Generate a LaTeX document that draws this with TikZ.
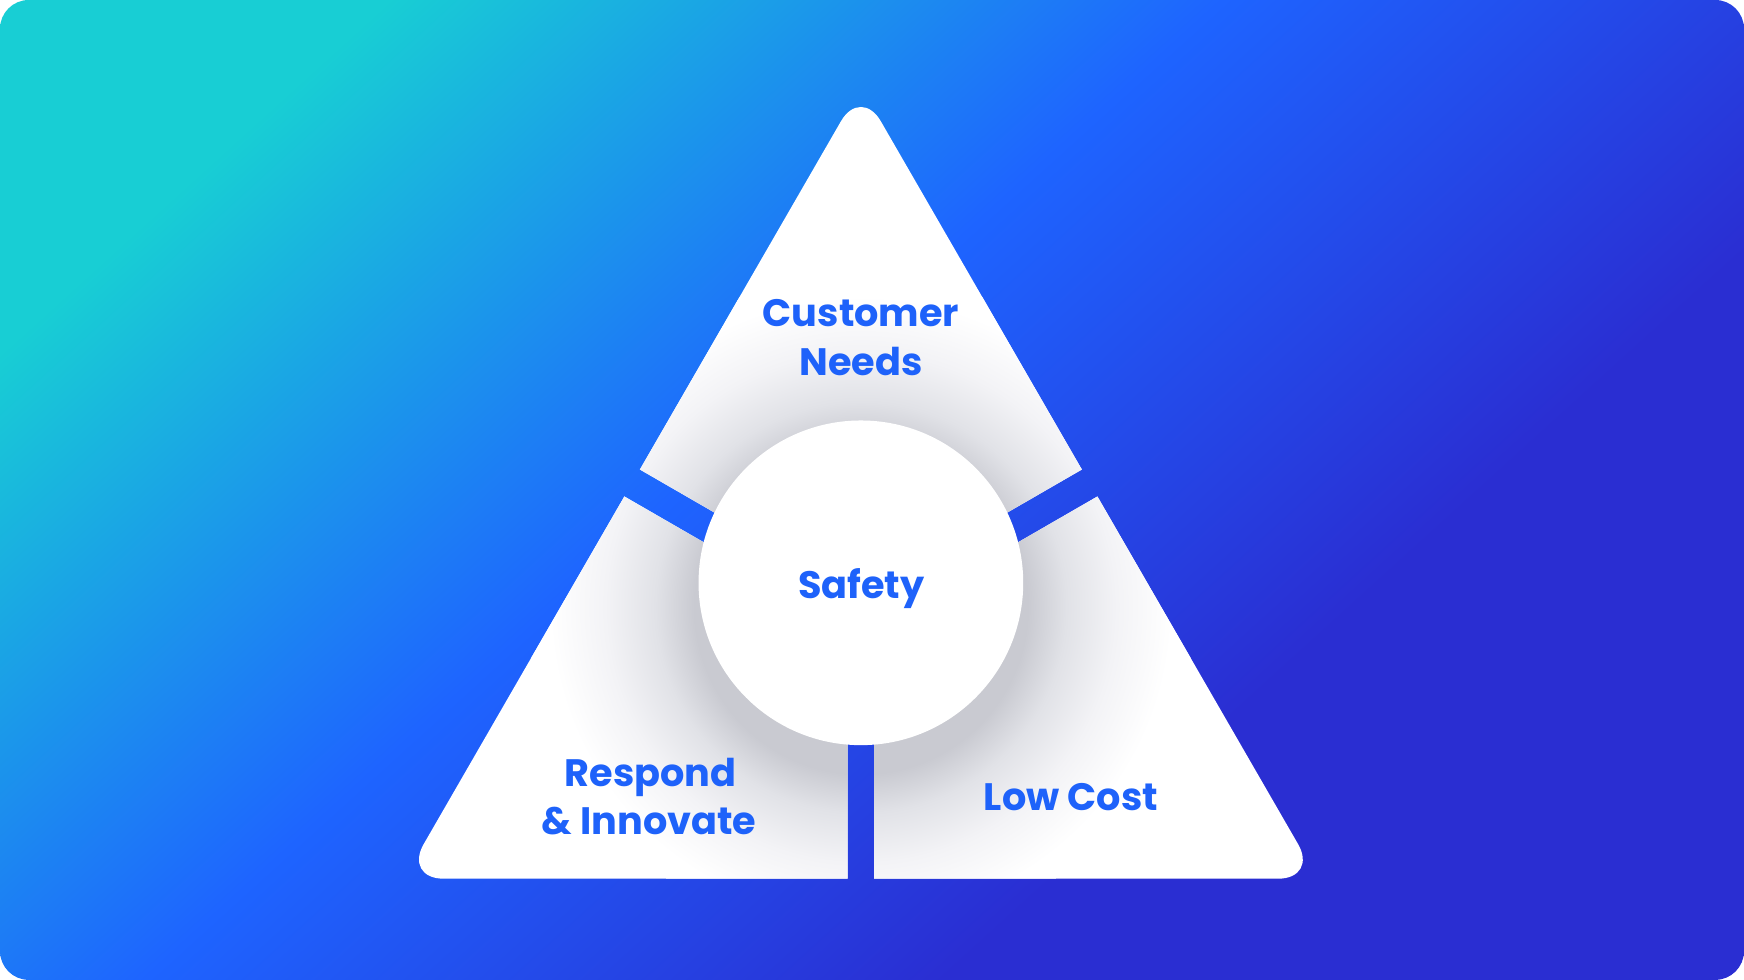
\documentclass[tikz,border=0pt]{standalone}
\usepackage{fontspec}
\setmainfont{Poppins}
\definecolor{bgcyan}{RGB}{24,206,212}
\definecolor{bgblue}{RGB}{30,100,255}
\definecolor{bgindigo}{RGB}{42,46,210}
\definecolor{shA}{RGB}{201,202,209}
\definecolor{shB}{RGB}{225,226,231}
\definecolor{shC}{RGB}{243,243,246}
\definecolor{tcol}{RGB}{30,98,250}
\pgfdeclarehorizontalshading{bgshade}{1800bp}{color(0bp)=(bgcyan); color(235bp)=(bgcyan); color(739bp)=(bgblue); color(1223bp)=(bgindigo); color(1720bp)=(bgindigo)}
\pgfdeclareradialshading{hubshadow}{\pgfpoint{0bp}{0bp}}{color(0bp)=(shA); color(150bp)=(shA); color(185bp)=(shB); color(230bp)=(shC); color(280bp)=(white); color(300bp)=(white)}
\tikzset{
  lbl/.style={text=tcol, font=\bfseries\fontsize{34.5}{42}\selectfont, inner sep=0pt, anchor=base},
  piece/.style={rounded corners=36pt}
}
\begin{document}
\begin{tikzpicture}[x=1bp,y=1bp]
\useasboundingbox (0,0) rectangle (1568,881);
\fill[white] (0,0) rectangle (1568,881);
\begin{scope}
  \clip[rounded corners=26pt] (0,0) rectangle (1568,881);
  \node[inner sep=0pt, outer sep=0pt, rotate=-47.76] (bgfill) at (788.1,435.4) {\pgfuseshading{bgshade}};
\end{scope}
\coordinate (A) at (774,803);
\coordinate (B) at (363,91);
\coordinate (C) at (1185,91);
\coordinate (U) at (774,344.17);
\coordinate (L) at (762,318.76);
\coordinate (R) at (786,318.76);
\begin{scope}
  \clip (U) -- ++(-866,500) -- ++(0,1000) -- ++(1732,0) -- ++(0,-1000) -- cycle
        (L) -- ++(-866,500) -- ++(0,-2000) -- ++(866,0) -- cycle
        (R) -- ++(866,500) -- ++(0,-2000) -- ++(-866,0) -- cycle;
  \clip[piece] (A) -- (B) -- (C) -- cycle;
  \fill[white] (0,0) rectangle (1568,881);
  \node[inner sep=0pt, outer sep=0pt] (shadow) at (774,335) {\pgfuseshading{hubshadow}};
\end{scope}
\node[circle, fill=white, inner sep=0pt, minimum size=293pt] (hub) at (774,357) {};
\node[lbl] (cust1) at (774.2,587.3) {Customer};
\node[lbl] (cust2) at (774.2,543.8) {Needs};
\node[lbl] (safety) at (774.5,343) {Safety};
\node[lbl] (resp1) at (585,173.7) {Respond};
\node[lbl] (resp2) at (583.5,130.8) {\& Innovate};
\node[lbl] (lowcost) at (962.8,152.7) {Low Cost};
\end{tikzpicture}
\end{document}
